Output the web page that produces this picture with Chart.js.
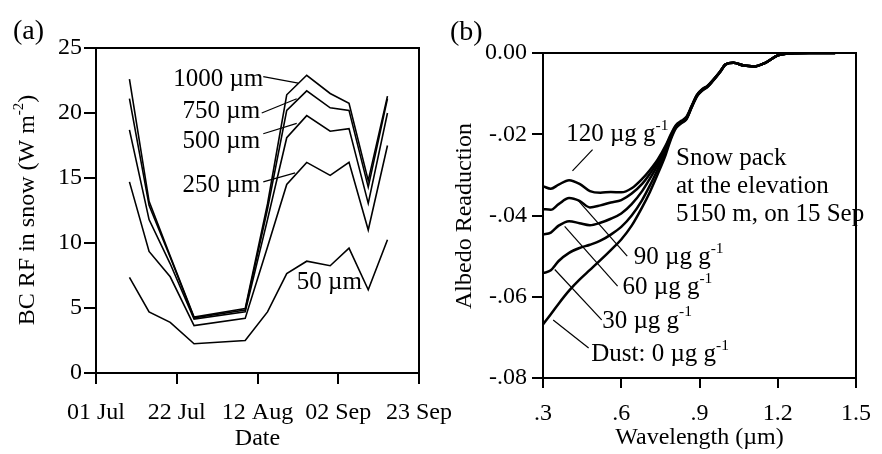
<!DOCTYPE html>
<html>
<head>
<meta charset="utf-8">
<script src="https://cdn.jsdelivr.net/npm/chart.js@4.4.1/dist/chart.umd.min.js"></script>
<style>
  html, body { margin: 0; padding: 0; background: #fff; }
  body { width: 882px; height: 454px; position: relative; overflow: hidden; }
  canvas { position: absolute; top: 0; }
  #chartA { left: 0; }
  #chartB { left: 440px; }
</style>
</head>
<body>
<canvas id="chartA" width="470" height="454"></canvas>
<canvas id="chartB" width="442" height="454"></canvas>
<script>
const FONT = '"Liberation Serif", "Times New Roman", serif';

// ---- (a) BC RF in snow, by grain size ----
const daysSinceJul1  = [8.7, 13.8, 19.3, 25.5, 38.8, 44.6, 49.6, 54.8, 60.9, 65.8, 70.8, 75.8];
const dateTickLabels = ['01 Jul', '22 Jul', '12 Aug', '02 Sep', '23 Sep'];
const rf1000 = [22.6, 13.2, 9.0, 4.30, 4.95, 13.0, 21.4, 22.9, 21.5, 20.75, 14.8, 21.3];
const rf750  = [21.1, 12.9, 8.9, 4.25, 4.85, 12.6, 20.2, 21.7, 20.4, 20.2, 14.3, 21.1];
const rf500  = [18.7, 11.8, 8.4, 4.15, 4.70, 11.8, 18.1, 19.8, 18.6, 18.8, 13.05, 20.0];
const rf250  = [14.7, 9.35, 7.4, 3.65, 4.20, 9.7, 14.5, 16.2, 15.2, 16.2, 11.0, 17.5];
const rf50   = [7.35, 4.7, 3.9, 2.25, 2.50, 4.7, 7.65, 8.6, 8.25, 9.6, 6.4, 10.25];
const grainLabels = ['1000 µm', '750 µm', '500 µm', '250 µm', '50 µm'];

// ---- (b) albedo reduction, by dust content ----
const wavelength = [0.30, 0.33, 0.36, 0.40, 0.44, 0.48, 0.52, 0.56, 0.60, 0.64, 0.68, 0.71, 0.74, 0.77, 0.79,
                    0.81, 0.83, 0.85, 0.87, 0.89, 0.91, 0.93, 0.95, 0.98, 1.00, 1.03, 1.07, 1.11, 1.15, 1.20, 1.25, 1.32, 1.42];
const dust120 = [-0.0328, -0.0334, -0.0324, -0.0313, -0.0322, -0.0340, -0.0344, -0.0342, -0.0343, -0.0333, -0.0310, -0.0288, -0.0262, -0.0228, -0.0200,
                 -0.0177, -0.0167, -0.0157, -0.0130, -0.0103, -0.0089, -0.0081, -0.0068, -0.0045, -0.0028, -0.0024, -0.0031, -0.0033, -0.0025, -0.0006, -0.0001, 0, 0];
const dust90  = [-0.0384, -0.0386, -0.0372, -0.0357, -0.0364, -0.0380, -0.0375, -0.0368, -0.0362, -0.0346, -0.0322, -0.0297, -0.0268, -0.0232, -0.0203,
                 -0.0179, -0.0169, -0.0159, -0.0131, -0.0104, -0.0090, -0.0082, -0.0068, -0.0045, -0.0028, -0.0024, -0.0031, -0.0033, -0.0025, -0.0006, -0.0001, 0, 0];
const dust60  = [-0.0447, -0.0442, -0.0425, -0.0414, -0.0419, -0.0424, -0.0418, -0.0408, -0.0395, -0.0372, -0.0340, -0.0309, -0.0276, -0.0238, -0.0206,
                 -0.0181, -0.0171, -0.0161, -0.0132, -0.0105, -0.0091, -0.0083, -0.0069, -0.0045, -0.0028, -0.0024, -0.0031, -0.0033, -0.0025, -0.0006, -0.0001, 0, 0];
const dust30  = [-0.0542, -0.0535, -0.0512, -0.0492, -0.0480, -0.0472, -0.0462, -0.0447, -0.0428, -0.0400, -0.0362, -0.0326, -0.0286, -0.0244, -0.0209,
                 -0.0183, -0.0172, -0.0162, -0.0133, -0.0106, -0.0092, -0.0083, -0.0069, -0.0046, -0.0028, -0.0024, -0.0031, -0.0033, -0.0025, -0.0006, -0.0001, 0, 0];
const dust0   = [-0.0668, -0.0643, -0.0617, -0.0585, -0.0558, -0.0534, -0.0510, -0.0485, -0.0459, -0.0425, -0.0380, -0.0342, -0.0298, -0.0251, -0.0213,
                 -0.0185, -0.0173, -0.0163, -0.0134, -0.0107, -0.0093, -0.0084, -0.0070, -0.0046, -0.0028, -0.0024, -0.0031, -0.0033, -0.0025, -0.0006, -0.0001, 0, 0];
const dustLabels = ['120 µg g', '90 µg g', '60 µg g', '30 µg g', 'Dust: 0 µg g'];
const wlTickLabels = ['.3', '.6', '.9', '1.2', '1.5'];
const albedoTickLabels = ['0.00', '-.02', '-.04', '-.06', '-.08'];

// text with superscript parts: [[text, isSup], ...]
function drawRich(ctx, parts, x, y, size, align) {
  const widths = parts.map(([t, sup]) => {
    ctx.font = `${sup ? size * 0.62 : size}px ${FONT}`;
    return ctx.measureText(t).width;
  });
  const total = widths.reduce((a, b) => a + b, 0);
  let cx = align === 'center' ? x - total / 2 : align === 'right' ? x - total : x;
  ctx.textAlign = 'left';
  ctx.textBaseline = 'middle';
  ctx.fillStyle = '#000';
  parts.forEach(([t, sup], i) => {
    ctx.font = `${sup ? size * 0.62 : size}px ${FONT}`;
    ctx.fillText(t, cx, sup ? y - size * 0.36 : y);
    cx += widths[i];
  });
}

function leader(ctx, sx, sy, x1, y1, x2, y2) {
  ctx.beginPath();
  ctx.moveTo(sx.getPixelForValue(x1), sy.getPixelForValue(y1));
  ctx.lineTo(sx.getPixelForValue(x2), sy.getPixelForValue(y2));
  ctx.stroke();
}

function frame(chart) {
  const { ctx, chartArea: a } = chart;
  ctx.save();
  ctx.strokeStyle = '#000';
  ctx.lineWidth = 2;
  ctx.beginPath();
  ctx.moveTo(a.left, a.top);
  ctx.lineTo(a.right, a.top);
  ctx.lineTo(a.right, a.bottom);
  ctx.stroke();
  ctx.restore();
}

const lineDs = (data, xs, width) => ({
  data: data.map((v, i) => ({ x: xs[i], y: v })),
  borderColor: '#000',
  borderWidth: width,
  pointRadius: 0,
  fill: false,
});

const axisCommon = (tickLength, padding) => ({
  grid: { drawOnChartArea: false, color: '#000', lineWidth: 2, tickLength },
  border: { color: '#000', width: 2 },
  ticks: { color: '#000', font: { family: FONT, size: 24 }, padding, maxRotation: 0, autoSkip: false },
});

// ---------- panel (a) ----------
const annotateA = {
  id: 'annotateA',
  afterDraw(chart) {
    const { ctx, scales: { x, y } } = chart;
    frame(chart);
    ctx.save();
    ctx.strokeStyle = '#000';
    ctx.lineWidth = 1.2;
    leader(ctx, x, y, 43.5, 22.8, 52.6, 22.3);
    leader(ctx, x, y, 43.1, 20.0, 52.2, 21.1);
    leader(ctx, x, y, 43.5, 18.4, 52.2, 19.2);
    leader(ctx, x, y, 43.5, 14.7, 51.8, 15.4);
    const spots = [[43.5, 22.55, 'right'], [42.7, 20.1, 'right'], [42.7, 17.8, 'right'], [42.7, 14.46, 'right'], [52.2, 7.0, 'left']];
    spots.forEach(([d, v, al], i) => {
      drawRich(ctx, [[grainLabels[i], false]], x.getPixelForValue(d), y.getPixelForValue(v), 25, al);
    });
    drawRich(ctx, [['(a)', false]], 13, 32, 28, 'left');
    drawRich(ctx, [['Date', false]], (chart.chartArea.left + chart.chartArea.right) / 2, 439, 24, 'center');
    ctx.translate(28, 210);
    ctx.rotate(-Math.PI / 2);
    drawRich(ctx, [['BC RF in snow (W m', false], ['-2', true], [')', false]], 0, 0, 24, 'center');
    ctx.restore();
  }
};

new Chart(document.getElementById('chartA'), {
  type: 'line',
  data: {
    datasets: [rf1000, rf750, rf500, rf250, rf50].map(s => lineDs(s, daysSinceJul1, 1.6))
  },
  options: {
    responsive: false,
    animation: false,
    layout: { padding: { top: 48, right: 51, left: 0, bottom: 0 } },
    plugins: { legend: { display: false }, tooltip: { enabled: false } },
    elements: { line: { tension: 0 } },
    scales: {
      x: {
        type: 'linear', min: 0, max: 84,
        ...axisCommon(11, 14),
        ticks: { ...axisCommon(11, 14).ticks, stepSize: 21, callback: (v, i) => dateTickLabels[i] },
        afterFit: s => { s.height = 81; }
      },
      y: {
        min: 0, max: 25,
        ...axisCommon(12, 2),
        ticks: { ...axisCommon(12, 2).ticks, stepSize: 5 },
        afterFit: s => { s.width = 96; }
      }
    }
  },
  plugins: [annotateA]
});

// ---------- panel (b) ----------
const annotateB = {
  id: 'annotateB',
  afterDraw(chart) {
    const { ctx, scales: { x, y } } = chart;
    frame(chart);
    ctx.save();
    ctx.strokeStyle = '#000';
    ctx.lineWidth = 1.2;
    leader(ctx, x, y, 0.413, -0.0290, 0.49, -0.0238);
    leader(ctx, x, y, 0.432, -0.0361, 0.623, -0.0500);
    leader(ctx, x, y, 0.383, -0.0427, 0.586, -0.0574);
    leader(ctx, x, y, 0.345, -0.0533, 0.525, -0.0657);
    leader(ctx, x, y, 0.339, -0.0657, 0.475, -0.0726);
    const spots = [[0.389, -0.0201], [0.648, -0.0504], [0.605, -0.0578], [0.527, -0.0660], [0.485, -0.0742]];
    spots.forEach(([w, v], i) => {
      drawRich(ctx, [[dustLabels[i], false], ['-1', true]], x.getPixelForValue(w), y.getPixelForValue(v), 25, 'left');
    });
    ['Snow pack', 'at the elevation', '5150 m, on 15 Sep'].forEach((t, i) => {
      drawRich(ctx, [[t, false]], x.getPixelForValue(0.81), y.getPixelForValue(-0.026 - i * 0.0069), 25, 'left');
    });
    drawRich(ctx, [['(b)', false]], 10, 33, 28, 'left');
    drawRich(ctx, [['Wavelength (µm)', false]], (chart.chartArea.left + chart.chartArea.right) / 2, 438, 24, 'center');
    ctx.translate(25, 216);
    ctx.rotate(-Math.PI / 2);
    drawRich(ctx, [['Albedo Readuction', false]], 0, 0, 24, 'center');
    ctx.restore();
  }
};

new Chart(document.getElementById('chartB'), {
  type: 'line',
  data: {
    datasets: [dust120, dust90, dust60, dust30, dust0].map(s => lineDs(s, wavelength, 2.5))
  },
  options: {
    responsive: false,
    animation: false,
    layout: { padding: { top: 53, right: 15, left: 0, bottom: 0 } },
    plugins: { legend: { display: false }, tooltip: { enabled: false } },
    elements: { line: { cubicInterpolationMode: 'monotone' } },
    scales: {
      x: {
        type: 'linear', min: 0.3, max: 1.5,
        ...axisCommon(10, 11),
        ticks: { ...axisCommon(10, 11).ticks, stepSize: 0.3, callback: (v, i) => wlTickLabels[i] },
        afterFit: s => { s.height = 76; }
      },
      y: {
        min: -0.08, max: 0,
        ...axisCommon(11, 5),
        ticks: { ...axisCommon(11, 5).ticks, stepSize: 0.02, callback: v => albedoTickLabels[Math.round(-v / 0.02)] },
        afterFit: s => { s.width = 103; }
      }
    }
  },
  plugins: [annotateB]
});
</script>
</body>
</html>
